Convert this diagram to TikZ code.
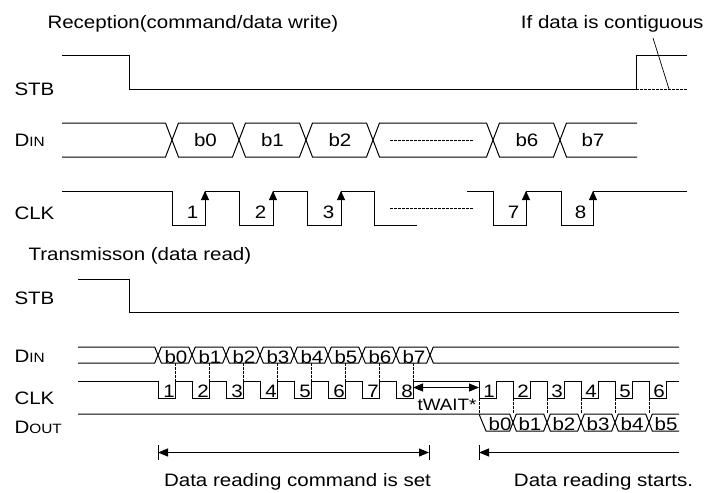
\documentclass[tikz,border=0pt]{standalone}
\usepackage{fontspec}
\setmainfont{Liberation Sans}[FakeStretch=1.14]
\usetikzlibrary{arrows.meta}
\newcommand{\smc}{\fontsize{13.5}{14}\selectfont}
\begin{document}
\begin{tikzpicture}[x=1pt,y=-1pt, line width=1pt, line join=miter,
  every node/.style={inner sep=0pt, font=\fontsize{18}{20}\selectfont},
  lbl/.style={anchor=base west},
  txt/.style={anchor=base},
  dsh/.style={dash pattern=on 2.5pt off 1.5pt, line width=0.7pt},
  upar/.style={-{Triangle[length=9pt,width=8pt]}},
  dimar/.style={{Triangle[length=10pt,width=8pt]}-{Triangle[length=10pt,width=8pt]}},
  lar/.style={{Triangle[length=10pt,width=8pt]}-}]
\path[use as bounding box] (0,0) rectangle (716,493);

% titles
\node[lbl] (t1) at (47,28) {Reception(command/data write)};
\node[anchor=base east] (t2) at (704,28) {If data is contiguous};
\node[lbl] (t3) at (28,260.5) {Transmisson (data read)};

% left labels
\node[lbl] (stbA) at (14,95.5) {STB};
\node[lbl] (dinA) at (14,146) {D{\smc IN}};
\node[lbl] (clkA) at (14,219) {CLK};
\node[lbl] (stbB) at (14,304) {STB};
\node[lbl] (dinB) at (14,362) {D{\smc IN}};
\node[lbl] (clkB) at (14,404) {CLK};
\node[lbl] (doutB) at (14,433) {D{\smc OUT}};

% ---------- upper: reception ----------
% STB
\draw (62,55) -- (129,55) -- (129,89) -- (636,89) -- (636,55) -- (687,55);
\draw[dsh] (636,89) -- (687,89);
\draw[line width=0.7pt] (653,38) -- (669,89);

% DIN
\def\h{6.5}
\draw (62,123) -- (172-\h,123) -- (172,140) -- (172-\h,157) -- (62,157);
\foreach \a/\b in {172/239,239/306,306/373,373/493,493/560}
  \draw (\a,140) -- (\a+\h,123) -- (\b-\h,123) -- (\b,140) -- (\b-\h,157) -- (\a+\h,157) -- cycle;
\draw (637,123) -- (560+\h,123) -- (560,140) -- (560+\h,157) -- (637,157);
\draw[dsh] (390,140) -- (474,140);
\foreach \x/\t [count=\i] in {205.5/b0,272.5/b1,340/b2,527/b6,593/b7}
  \node[txt] (ub\i) at (\x,146.5) {\t};

% CLK
\draw (62,191) -- (172,191) -- (172,225) -- (205,225) -- (205,191) -- (239,191) -- (239,225)
  -- (273,225) -- (273,191) -- (307,191) -- (307,225) -- (341,225) -- (341,191) -- (374,191)
  -- (374,225) -- (417,225);
\draw (467,191) -- (493,191) -- (493,225) -- (526,225) -- (526,191) -- (561,191) -- (561,225)
  -- (593,225) -- (593,191) -- (687,191);
\draw[dsh] (390,208) -- (474,208);
\foreach \x/\t in {205/1,273/2,341/3,526/7,593/8}{
  \draw[upar] (\x,225) -- (\x,191);
  \node[txt] (un\t) at (\x-12.5,218) {\t};
}

% ---------- lower: transmission ----------
% STB
\draw (78,279) -- (129,279) -- (129,312) -- (679,312);

% DIN
\def\g{3.3}
\draw (78,347) -- (158-\g,347) -- (158,355) -- (158-\g,363) -- (78,363);
\foreach \k in {0,...,7}{
  \pgfmathsetmacro{\a}{158+34*\k}
  \pgfmathsetmacro{\b}{192+34*\k}
  \draw (\a,355) -- (\a+\g,347) -- (\b-\g,347) -- (\b,355) -- (\b-\g,363) -- (\a+\g,363) -- cycle;
  \node[txt] (lb\k) at (176+34*\k,363) {b\k};
}
\draw (679,347) -- (430+\g,347) -- (430,355) -- (430+\g,363) -- (679,363);

% CLK
\draw (78,381)
  \foreach \k in {0,...,7}{ -- ({158+34*\k},381) -- ({158+34*\k},398) -- ({175+34*\k},398) -- ({175+34*\k},381) }
  \foreach \j in {0,...,5}{ -- ({479+34*\j},381) -- ({479+34*\j},398) -- ({496+34*\j},398) -- ({496+34*\j},381) }
  -- (679,381);
\foreach \k [evaluate=\k as \n using int(\k+1)] in {0,...,7}{
  \draw[dsh] ({175+34*\k},363) -- ({175+34*\k},381);
  \node[txt] (ln\n) at ({169+34*\k},397) {\n};
}
\foreach \j [evaluate=\j as \n using int(\j+1)] in {0,...,5}{
  \draw[dsh] ({479+34*\j},398) -- ({479+34*\j},414);
  \node[txt] (rn\n) at ({489+34*\j},397) {\n};
}
\draw[dimar] (413,387.5) -- (479,387.5);
\node[txt, font=\fontsize{16.5}{18}\selectfont] (tw) at (447,410) {tWAIT*};

% DOUT
\draw (78,414) -- (513-\g,414) -- (513,422.5) -- (513-\g,431) -- (486,431) -- (479,414);
\foreach \a/\b in {513/547,547/581,581/615,615/649}
  \draw (\a,422.5) -- (\a+\g,414) -- (\b-\g,414) -- (\b,422.5) -- (\b-\g,431) -- (\a+\g,431) -- cycle;
\draw (679,414) -- (649+\g,414) -- (649,422.5) -- (649+\g,431) -- (679,431);
\node[txt] (ob0) at (500,430.5) {b0};
\foreach \j in {1,...,5}
  \node[txt] (ob\j) at ({496+34*\j},430.5) {b\j};

% bottom arrows
\draw (158,445) -- (158,460);
\draw (429,445) -- (429,460);
\draw (479,445) -- (479,460);
\draw[dimar] (158,452.5) -- (429,452.5);
\draw[lar] (479,452.5) -- (679,452.5);
\node[txt] (c1) at (297.5,486.5) {Data reading command is set};
\node[txt] (c2) at (603.5,486.5) {Data reading starts.};
\end{tikzpicture}
\end{document}
